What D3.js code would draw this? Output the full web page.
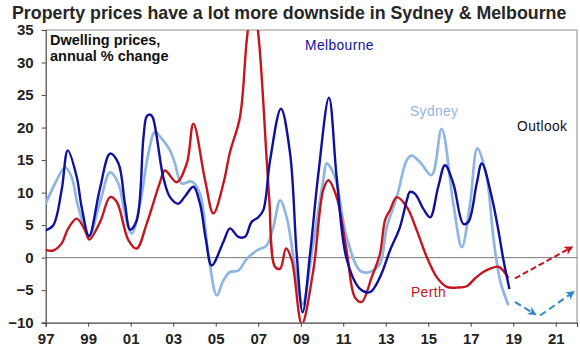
<!DOCTYPE html>
<html>
<head>
<meta charset="utf-8">
<script src="https://cdn.jsdelivr.net/npm/d3@7"></script>
<style>
  body { margin: 0; background: #fff; }
  svg { display: block; font-family: "Liberation Sans", Arial, sans-serif; }
</style>
</head>
<body>
<div id="main"></div>
<script>
// series: [decimal year, annual % change]
const melbourne = [
  [1997.0, 4.2], [1997.36, 5.0], [1997.75, 10.4], [1998.04, 16.5], [1998.46, 12.4], [1998.69, 7.8],
  [1999.04, 3.3], [1999.55, 10.6], [2000.03, 16.0], [2000.42, 14.5], [2000.73, 8.3], [2000.97, 4.3],
  [2001.28, 5.7], [2001.6, 18.5], [2001.75, 21.7], [2001.9, 22.0], [2002.03, 21.6], [2002.53, 12.4],
  [2002.85, 9.3], [2003.24, 8.3], [2003.55, 9.4], [2003.95, 10.9], [2004.26, 8.3], [2004.54, 2.7],
  [2004.81, -1.2], [2005.36, 2.4], [2005.67, 4.5], [2006.06, 3.2], [2006.38, 3.2], [2006.69, 5.5],
  [2007.0, 6.2], [2007.24, 7.3], [2007.56, 15.0], [2008.07, 22.9], [2008.5, 16.0], [2008.81, 0.6],
  [2009.09, -8.4], [2009.44, 0.6], [2009.83, 12.9], [2010.33, 24.6], [2010.69, 12.4], [2011.16, -0.2],
  [2011.79, -4.8], [2012.26, -5.3], [2012.73, -3.0], [2013.2, 1.1], [2013.67, 4.7], [2013.99, 8.8],
  [2014.14, 10.1], [2014.38, 9.8], [2014.77, 7.5], [2015.09, 6.2], [2015.47, 10.9], [2015.79, 14.2],
  [2016.18, 11.4], [2016.65, 5.2], [2016.89, 5.5], [2017.28, 11.4], [2017.52, 14.5], [2017.99, 9.3],
  [2018.3, 4.2], [2018.53, -0.2], [2018.82, -4.8]
];

const sydney = [
  [1997.0, 8.3], [1997.44, 11.4], [1997.91, 13.9], [1998.22, 12.4], [1998.53, 7.8], [1999.04, 3.4],
  [1999.56, 8.6], [2000.03, 13.1], [2000.42, 11.4], [2000.73, 6.8], [2001.05, 3.7], [2001.44, 8.3],
  [2001.83, 16.0], [2002.14, 19.3], [2002.46, 18.3], [2002.85, 16.5], [2003.08, 14.5], [2003.4, 11.4],
  [2003.87, 11.7], [2004.26, 9.8], [2004.65, 0.6], [2005.05, -5.8], [2005.36, -3.5], [2005.67, -2.2],
  [2006.06, -2.0], [2006.46, -0.2], [2006.93, 1.1], [2007.4, 1.9], [2007.71, 4.7], [2008.03, 8.8],
  [2008.34, 6.2], [2008.73, -1.4], [2009.09, -7.1], [2009.59, 2.2], [2010.06, 11.9], [2010.22, 14.5],
  [2010.61, 12.4], [2011.16, 3.2], [2011.79, -2.0], [2012.26, -2.2], [2012.73, -0.9], [2013.05, 4.7],
  [2013.52, 9.3], [2013.99, 15.0], [2014.22, 15.7], [2014.61, 14.7], [2015.16, 12.7], [2015.63, 19.8],
  [2016.18, 8.3], [2016.58, 1.6], [2016.97, 8.3], [2017.31, 16.8], [2017.75, 12.4], [2018.06, 3.2],
  [2018.38, -3.5], [2018.77, -7.3]
];

const perth = [
  [1997.0, 1.2], [1997.36, 1.1], [1997.75, 2.2], [1998.06, 4.5], [1998.46, 6.0], [1998.85, 4.2],
  [1999.05, 2.8], [1999.56, 5.5], [2000.03, 9.3], [2000.34, 8.6], [2000.89, 2.7], [2001.28, 1.4],
  [2001.75, 5.2], [2002.38, 11.6], [2002.61, 13.4], [2003.16, 11.6], [2003.64, 14.5], [2003.95, 20.6],
  [2004.5, 11.9], [2004.89, 6.8], [2005.36, 11.4], [2005.67, 16.2], [2006.14, 21.6], [2006.46, 33.4],
  [2006.73, 40.0], [2007.0, 34.5], [2007.4, 15.0], [2007.52, 9.0], [2007.79, -1.4], [2008.03, -1.7],
  [2008.31, 1.4], [2008.58, -0.4], [2009.05, -10.2], [2009.59, -2.0], [2010.06, 10.4], [2010.3, 11.9],
  [2010.69, 9.3], [2011.16, 1.1], [2011.55, -6.1], [2011.87, -6.8], [2012.34, -3.0], [2012.73, 0.6],
  [2012.97, 5.8], [2013.2, 7.3], [2013.52, 9.3], [2013.99, 7.8], [2014.46, 4.2], [2014.93, 0.1],
  [2015.4, -3.0], [2015.87, -4.5], [2016.34, -4.6], [2016.81, -4.4], [2017.2, -3.2], [2017.59, -2.2],
  [2017.91, -1.7], [2018.3, -1.4], [2018.53, -2.0], [2018.77, -3.1]
];

// outlook arrows
const perthOutlook = [[2019.08, -3.2], [2021.75, 1.6]];
const sydneyOutlookDown = [[2019.08, -6.8], [2020.03, -8.7]];
const sydneyOutlookUp = [[2020.26, -8.9], [2021.83, -5.3]];

const xTicks = [1997, 1999, 2001, 2003, 2005, 2007, 2009, 2011, 2013, 2015, 2017, 2019, 2021];
const yTicks = [-10, -5, 0, 5, 10, 15, 20, 25, 30, 35];

const W = 580, H = 352;
const pLeft = 45.7, pRight = 577, pTop = 30, pBottom = 322.7;

const COL_MEL = "#0f0fa0", COL_SYD = "#8fb5e3", COL_PER = "#c4161c", COL_OUT = "#2f8ac4";

const svg = d3.select("#main").append("svg").attr("width", W).attr("height", H);

const x = d3.scaleLinear().domain([1997, 2022]).range([pLeft, pRight]);
const y = d3.scaleLinear().domain([-10, 35]).range([pBottom, pTop]);

svg.append("text")
  .attr("x", 12).attr("y", 19)
  .attr("font-size", 17.8).attr("font-weight", "bold").attr("fill", "#262626")
  .text("Property prices have a lot more downside in Sydney & Melbourne");

// frame
svg.append("path")
  .attr("d", `M${pLeft},${pTop}H${pRight}V${pBottom}`)
  .attr("fill", "none").attr("stroke", "#8c8c8c").attr("stroke-width", 1);

// zero line
svg.append("line")
  .attr("x1", pLeft).attr("x2", pRight).attr("y1", y(0)).attr("y2", y(0))
  .attr("stroke", "#777").attr("stroke-width", 1);

const yAxis = svg.append("g")
  .attr("transform", `translate(${pLeft},0)`)
  .call(d3.axisLeft(y).tickValues(yTicks).tickSize(4).tickPadding(8));
yAxis.select(".domain").attr("stroke", "#444").attr("stroke-width", 1.2);
yAxis.selectAll(".tick line").attr("stroke", "#444");
yAxis.selectAll("text").attr("font-size", 15).attr("font-weight", "bold").attr("fill", "#222")
  .attr("font-family", "Liberation Sans, Arial, sans-serif");

const xAxis = svg.append("g")
  .attr("transform", `translate(0,${pBottom})`)
  .call(d3.axisBottom(x).tickValues(xTicks).tickSize(4).tickPadding(7)
    .tickFormat(d => String(d % 100).padStart(2, "0")));
xAxis.select(".domain").attr("stroke", "#444").attr("stroke-width", 1.2);
xAxis.selectAll(".tick line").attr("stroke", "#444");
xAxis.selectAll("text").attr("font-size", 15).attr("font-weight", "bold").attr("fill", "#222")
  .attr("font-family", "Liberation Sans, Arial, sans-serif");

svg.append("clipPath").attr("id", "plotClip")
  .append("rect").attr("x", pLeft).attr("y", pTop).attr("width", pRight - pLeft).attr("height", pBottom - pTop);

const line = d3.line()
  .x(d => x(d[0])).y(d => y(d[1]))
  .curve(d3.curveCatmullRom.alpha(0.5));

const plotG = svg.append("g").attr("clip-path", "url(#plotClip)");

plotG.append("path").datum(sydney)
  .attr("d", line).attr("fill", "none").attr("stroke", COL_SYD).attr("stroke-width", 2.7);
plotG.append("path").datum(perth)
  .attr("d", line).attr("fill", "none").attr("stroke", COL_PER).attr("stroke-width", 2.4);
plotG.append("path").datum(melbourne)
  .attr("d", line).attr("fill", "none").attr("stroke", COL_MEL).attr("stroke-width", 2.4);

// arrowheads
const defs = svg.append("defs");
[["arrRed", COL_PER], ["arrBlue", COL_OUT]].forEach(([id, c]) => {
  defs.append("marker").attr("id", id)
    .attr("viewBox", "0 0 10 10").attr("refX", 8).attr("refY", 5)
    .attr("markerWidth", 4.5).attr("markerHeight", 4.5).attr("orient", "auto")
    .append("path").attr("d", "M0,0L10,5L0,10L3,5Z").attr("fill", c);
});

const straight = d3.line().x(d => x(d[0])).y(d => y(d[1]));
svg.append("path").datum(perthOutlook).attr("d", straight)
  .attr("fill", "none").attr("stroke", COL_PER).attr("stroke-width", 2)
  .attr("stroke-dasharray", "6,3").attr("marker-end", "url(#arrRed)");
[sydneyOutlookDown, sydneyOutlookUp].forEach(seg => {
  svg.append("path").datum(seg).attr("d", straight)
    .attr("fill", "none").attr("stroke", COL_OUT).attr("stroke-width", 2)
    .attr("stroke-dasharray", "7,4").attr("marker-end", "url(#arrBlue)");
});

// annotations
const note = svg.append("text").attr("font-size", 14.5).attr("font-weight", "bold").attr("fill", "#111");
note.append("tspan").attr("x", 50).attr("y", 45).text("Dwelling prices,");
note.append("tspan").attr("x", 50).attr("y", 61).text("annual % change");

svg.append("text").attr("x", 305).attr("y", 50).attr("font-size", 13.8).attr("fill", COL_MEL)
  .attr("letter-spacing", 0.4).text("Melbourne");
svg.append("text").attr("x", 410).attr("y", 116).attr("font-size", 13.8).attr("fill", COL_SYD)
  .attr("letter-spacing", 0.4).text("Sydney");
svg.append("text").attr("x", 517).attr("y", 131).attr("font-size", 13.8).attr("fill", "#111")
  .attr("letter-spacing", 0.4).text("Outlook");
svg.append("text").attr("x", 411).attr("y", 297).attr("font-size", 13.8).attr("fill", COL_PER)
  .attr("letter-spacing", 0.4).text("Perth");
</script>
</body>
</html>
